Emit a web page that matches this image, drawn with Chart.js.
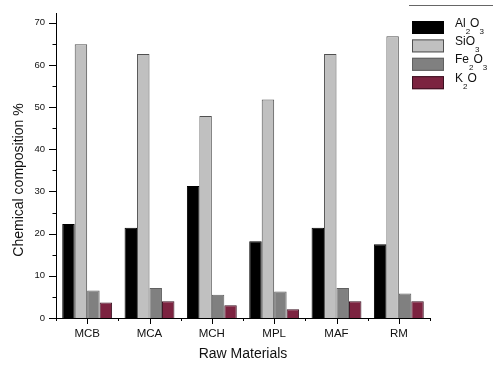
<!DOCTYPE html>
<html>
<head>
<meta charset="utf-8">
<script src="https://cdn.jsdelivr.net/npm/chart.js@4.4.1/dist/chart.umd.min.js"></script>
<style>
  html, body { margin: 0; padding: 0; background: #fff; }
  #wrap { width: 496px; height: 365px; }
</style>
</head>
<body>
<div id="wrap"><canvas id="c" width="496" height="365"></canvas></div>
<script>
// Raw material samples and their oxide contents (%)
const categories = ['MCB', 'MCA', 'MCH', 'MPL', 'MAF', 'RM'];
const al2o3 = [22.3, 21.4, 31.3, 18.2, 21.4, 17.5];
const sio3  = [64.9, 62.6, 47.9, 51.8, 62.6, 66.8];
const fe2o3 = [6.5, 7.1, 5.5, 6.3, 7.1, 5.8];
const k2o   = [3.7, 4.0, 3.0, 2.1, 4.0, 4.0];
const seriesNames = ['Al2O3', 'SiO3', 'Fe2O3', 'K2O'];
const yTicks = [0, 10, 20, 30, 40, 50, 60, 70];

const FONT = '"Liberation Sans", Arial, sans-serif';
const fills = ['#000000', '#c0c0c0', '#808080', '#7c2340'];
const edges = ['#000000', '#505050', '#606060', '#3a1020'];

// Writes a chemical formula, dropping each digit to a subscript.
function drawFormula(ctx, text, x, y) {
  let cx = x;
  for (const ch of text) {
    if (/[0-9]/.test(ch)) {
      ctx.font = '8px ' + FONT;
      ctx.fillText(ch, cx, y + 7);
    } else {
      ctx.font = '12px ' + FONT;
      ctx.fillText(ch, cx, y);
    }
    cx += ctx.measureText(ch).width;
  }
}

const decor = {
  id: 'decor',
  afterDraw(chart) {
    const { ctx, chartArea: a, scales: { x, y } } = chart;
    ctx.save();
    ctx.strokeStyle = '#000';
    ctx.lineWidth = 1;
    // y ticks: labelled every 10, minor halfway between
    for (let v = 0; v <= 70; v += 5) {
      const py = Math.round(y.getPixelForValue(v)) + 0.5;
      const len = v % 10 === 0 ? 7 : 3.5;
      ctx.beginPath();
      ctx.moveTo(a.left - len, py);
      ctx.lineTo(a.left, py);
      ctx.stroke();
    }
    // x ticks: short ones at group edges, longer at group centres
    const n = categories.length;
    const w = (a.right - a.left) / n;
    for (let i = 0; i <= n; i++) {
      const px = Math.round(a.left + i * w) + 0.5;
      ctx.beginPath();
      ctx.moveTo(px, a.bottom);
      ctx.lineTo(px, a.bottom + 3);
      ctx.stroke();
    }
    for (let i = 0; i < n; i++) {
      const px = Math.round(x.getPixelForValue(i)) + 0.5;
      ctx.beginPath();
      ctx.moveTo(px, a.bottom);
      ctx.lineTo(px, a.bottom + 6);
      ctx.stroke();
    }
    // y-axis title
    ctx.save();
    ctx.translate(19, 180);
    ctx.rotate(-Math.PI / 2);
    ctx.fillStyle = '#111';
    ctx.font = '14px ' + FONT;
    ctx.textAlign = 'center';
    ctx.textBaseline = 'middle';
    ctx.fillText('Chemical composition %', 0, 0);
    ctx.restore();

    // legend frame edge and entries
    ctx.strokeStyle = '#666';
    ctx.beginPath();
    ctx.moveTo(409, 5.5);
    ctx.lineTo(493, 5.5);
    ctx.stroke();
    chart.data.datasets.forEach((ds, i) => {
      const top = 21 + i * 18.4;
      ctx.fillStyle = ds.backgroundColor;
      ctx.fillRect(412, top, 32, 13);
      ctx.strokeStyle = ds.borderColor;
      ctx.strokeRect(412.5, top + 0.5, 31, 12);
      ctx.fillStyle = '#111';
      ctx.textAlign = 'left';
      ctx.textBaseline = 'alphabetic';
      drawFormula(ctx, ds.label, 455, top + 5.5);
    });
    ctx.restore();
  }
};

const seriesData = [al2o3, sio3, fe2o3, k2o];

new Chart(document.getElementById('c'), {
  type: 'bar',
  data: {
    labels: categories,
    datasets: seriesData.map((d, i) => ({
      label: seriesNames[i],
      data: d,
      backgroundColor: fills[i],
      borderColor: edges[i],
      borderWidth: 1,
      categoryPercentage: 0.8,
      barPercentage: 1.0
    }))
  },
  options: {
    responsive: false,
    animation: false,
    layout: { padding: { left: 0, right: 66, top: 13, bottom: 0 } },
    plugins: { legend: { display: false }, tooltip: { enabled: false } },
    scales: {
      x: {
        grid: { display: false },
        border: { display: true, color: '#000', width: 1 },
        ticks: { color: '#111', font: { family: FONT, size: 11.5 }, padding: 1 },
        title: {
          display: true, text: 'Raw Materials', color: '#111',
          font: { family: FONT, size: 14 }, padding: { top: 0, bottom: 2 }
        },
        afterFit(s) { s.height = 47; }
      },
      y: {
        min: 0,
        max: 72.3,
        grid: { display: false },
        border: { display: true, color: '#000', width: 1 },
        afterBuildTicks(s) { s.ticks = yTicks.map(v => ({ value: v })); },
        ticks: { color: '#111', font: { family: FONT, size: 9.5 }, padding: 3 },
        afterFit(s) { s.width = 56; }
      }
    }
  },
  plugins: [decor]
});
</script>
</body>
</html>
